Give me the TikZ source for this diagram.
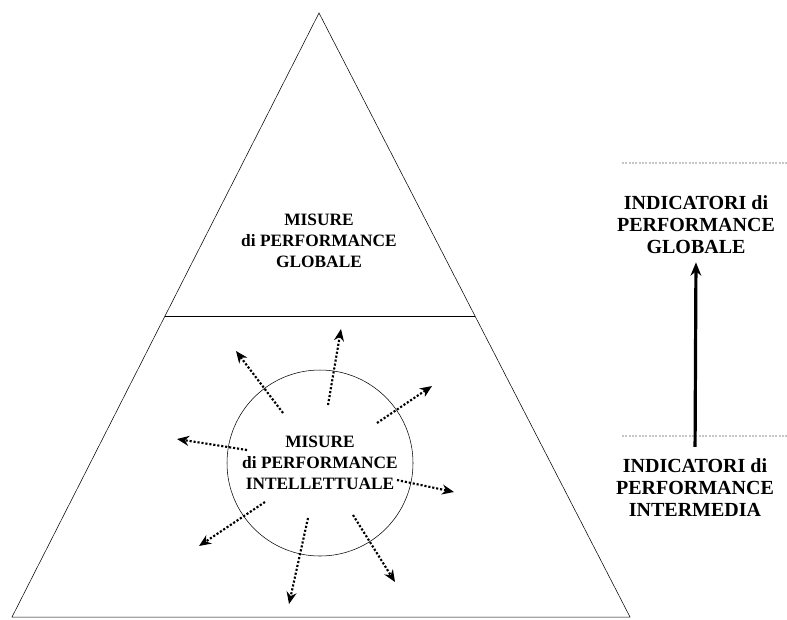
\documentclass[tikz,border=0pt]{standalone}
\usepackage{fontspec}
\setmainfont{Liberation Serif}
\usetikzlibrary{arrows.meta, calc}
\tikzstyle{arrow} = [thick,->,>=stealth]

\begin{document}
\begin{tikzpicture}[x=0.75pt, y=-0.75pt]
\tikzstyle{label} = [align=center, inner sep=0pt, font=\bfseries\fontsize{13}{15.75}\selectfont]
\tikzstyle{indic} = [align=center, inner sep=0pt, font=\bfseries\fontsize{15}{16.5}\selectfont]
\tikzstyle{dotarrow} = [line width=1.6pt, dash pattern=on 1.6pt off 1.4pt, ->, >={Stealth[length=9pt, width=7.5pt]}]
\tikzstyle{bigarrow} = [line width=2.4pt, ->, >={Stealth[length=10pt, width=8pt]}]
\tikzstyle{scan} = [draw=gray!45, line width=1.5pt, densely dotted]

\useasboundingbox (0,0) rectangle (787,619);

% pyramid
\coordinate (apex) at (319,13);
\coordinate (bl) at (12,617);
\coordinate (br) at (630,617);
\draw [thin] (apex) -- (bl) -- (br) -- cycle;
\draw [thin] ($(apex)!0.5017!(bl)$) -- ($(apex)!0.5017!(br)$);

\node (glob) [label] at (319,241) {MISURE\\di PERFORMANCE\\GLOBALE};
\node (intel) [circle, draw, thin, minimum size=139.5pt, label] at (320,463) {MISURE\\di PERFORMANCE\\INTELLETTUALE};

% dotted arrows out of the circle
\coordinate (s1) at (283,413); \coordinate (e1) at (236,351);
\coordinate (s2) at (328,405); \coordinate (e2) at (341,329);
\coordinate (s3) at (377,423); \coordinate (e3) at (432,386);
\coordinate (s4) at (247,450); \coordinate (e4) at (177,439);
\coordinate (s5) at (397,480); \coordinate (e5) at (454,492);
\coordinate (s6) at (265,502); \coordinate (e6) at (199,546);
\coordinate (s7) at (308,518); \coordinate (e7) at (289,604);
\coordinate (s8) at (353,515); \coordinate (e8) at (395,582);

\draw [dotarrow] (s1) -- (e1);
\draw [dotarrow] (s2) -- (e2);
\draw [dotarrow] (s3) -- (e3);
\draw [dotarrow] (s4) -- (e4);
\draw [dotarrow] (s5) -- (e5);
\draw [dotarrow] (s6) -- (e6);
\draw [dotarrow] (s7) -- (e7);
\draw [dotarrow] (s8) -- (e8);

% indicators
\draw [scan] (622,163) -- (787,163);
\draw [scan] (622,436) -- (787,436);
\node (indglob) [indic] at (696,225) {INDICATORI di\\PERFORMANCE\\GLOBALE};
\node (indint) [indic] at (695,488) {INDICATORI di\\PERFORMANCE\\INTERMEDIA};
\draw [bigarrow, shorten <=9pt, shorten >=6pt] (indint.north) -- (indglob.south);

\end{tikzpicture}
\end{document}
